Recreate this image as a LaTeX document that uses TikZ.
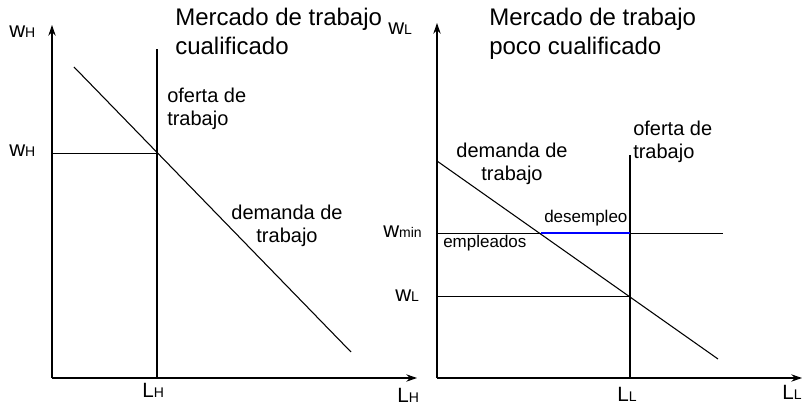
\documentclass[tikz,border=0pt]{standalone}
\usepackage{fontspec}
\setmainfont{Liberation Sans}
\usetikzlibrary{arrows.meta, positioning}
\newcommand\wlab[1]{{\fontsize{16.5}{19}\selectfont w}{\fontsize{10.5}{12}\selectfont #1}}
\newcommand\Llab[1]{{\fontsize{15.5}{18}\selectfont L}{\fontsize{10.5}{12}\selectfont #1}}

\begin{document}
\begin{tikzpicture}[
    x=0.75pt, y=-0.75pt,
    every node/.style={inner sep=0pt},
    axis/.style={-{Stealth[length=8pt, width=5.5pt]}, line width=0.9pt},
    curve/.style={line width=0.8pt},
    guide/.style={line width=0.7pt},
    title/.style={font=\fontsize{18}{21.75}\selectfont, align=left, anchor=north west},
    note/.style={font=\fontsize{15}{17.25}\selectfont, align=left, anchor=north west},
    small/.style={font=\fontsize{12.75}{15}\selectfont, anchor=base west},
    tick/.style={anchor=base west}
  ]
    \useasboundingbox (0,0) rectangle (803,406);

    % skilled labour market
    \coordinate (oH) at (52,378);
    \coordinate (yH) at (52,25);
    \coordinate (xH) at (417,378);
    \coordinate (sHtop) at (157,49);
    \coordinate (sHbot) at (157,378);
    \coordinate (dHa) at (74,67);
    \coordinate (dHb) at (351,352);
    \coordinate (eqH) at (157,153);

    \draw[axis] (oH) -- (yH);
    \draw[axis] (oH) -- (xH);
    \draw[curve] (sHbot) -- (sHtop);
    \draw[curve] (dHa) -- (dHb);
    \draw[guide] (oH |- eqH) -- (eqH);

    \node[title] (ttlH) at (175,8) {Mercado de trabajo\\cualificado};
    \node[note] (ofH) at (167,88) {oferta de\\trabajo};
    \node[note, anchor=north, align=center] (deH) at (287,205) {demanda de\\trabajo};
    \node[tick] (wHax) at (9,38) {\wlab{H}};
    \node[tick] (wHeq) at (9,157) {\wlab{H}};
    \node[tick] (LHeq) at (142,397) {\Llab{H}};
    \node[tick] (LHax) at (397,402) {\Llab{H}};

    % low-skilled labour market
    \coordinate (oL) at (437,378);
    \coordinate (yL) at (437,23);
    \coordinate (xL) at (802,378);
    \coordinate (sLtop) at (630,155);
    \coordinate (sLbot) at (630,378);
    \coordinate (dLa) at (437,161);
    \coordinate (dLb) at (718,359);
    \coordinate (eqL) at (630,296);
    \coordinate (minEnd) at (723,233);
    \coordinate (minDem) at (541,233);
    \coordinate (minSup) at (630,233);

    \draw[axis] (oL) -- (yL);
    \draw[axis] (oL) -- (xL);
    \draw[curve] (sLbot) -- (sLtop);
    \draw[curve] (dLa) -- (dLb);
    \draw[guide] (oL |- eqL) -- (eqL);
    \draw[guide] (oL |- minEnd) -- (minEnd);
    \draw[blue, line width=1.5pt] (minDem) -- (minSup);

    \node[title] (ttlL) at (489,8) {Mercado de trabajo\\poco cualificado};
    \node[note] (ofL) at (633,121) {oferta de\\trabajo};
    \node[note, anchor=north, align=center] (deL) at (512,143) {demanda de\\trabajo};
    \node[small] (unemp) at (544,222) {desempleo};
    \node[small] (emp) at (443,247) {empleados};
    \node[tick] (wLax) at (388,35) {\wlab{L}};
    \node[tick] (wmin) at (383,237) {\wlab{min}};
    \node[tick] (wLeq) at (395,301) {\wlab{L}};
    \node[tick] (LLeq) at (617,401) {\Llab{L}};
    \node[tick] (LLax) at (782,399) {\Llab{L}};
\end{tikzpicture}
\end{document}
